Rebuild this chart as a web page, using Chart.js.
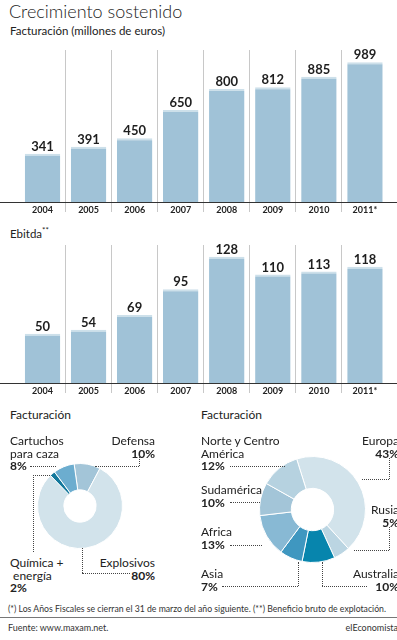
<!DOCTYPE html>
<html>
<head>
<meta charset="utf-8">
<script src="https://cdn.jsdelivr.net/npm/chart.js@4"></script>
<style>
  body { margin: 0; width: 397px; height: 640px; overflow: hidden; background: #fff; font-family: Lato, "Noto Sans", sans-serif; color: #222; position: relative; }
  .t { position: absolute; white-space: nowrap; }
  .lbl { position: absolute; font-size: 12px; line-height: 12.5px; white-space: nowrap; }
  .lbl b { font-weight: bold; }
  .r { text-align: right; }
  .h { position: absolute; border-top: 1px dotted #444; height: 0; }
  .v { position: absolute; border-left: 1px dotted #444; width: 0; }
  canvas { position: absolute; }
</style>
</head>
<body>
<div class="t" style="left:9px;top:0px;font-size:18px;font-weight:300;">Crecimiento sostenido</div>
<div class="t" style="left:10px;top:24px;font-size:11.5px;">Facturación (millones de euros)</div>
<canvas id="fact" width="397" height="180" style="left:0;top:40px;"></canvas>

<div class="t" style="left:10px;top:225px;font-size:11.5px;">Ebitda<sup style="font-size:8px;">**</sup></div>
<canvas id="ebitda" width="397" height="165" style="left:0;top:235px;"></canvas>

<div class="t" style="left:10px;top:407px;font-size:12px;">Facturación</div>
<div class="t" style="left:201px;top:407px;font-size:12px;">Facturación</div>

<canvas id="negocio" width="86" height="86" style="left:37px;top:463px;"></canvas>
<canvas id="region" width="107" height="107" style="left:259px;top:456px;"></canvas>

<!-- labels, left doughnut -->
<div class="lbl" style="left:10px;top:435px;">Cartuchos<br>para caza<br><b>8%</b></div>
<div class="lbl r" style="right:242px;top:435px;">Defensa<br><b>10%</b></div>
<div class="lbl" style="left:10px;top:557px;">Química +<br>&nbsp;energía<br><b>2%</b></div>
<div class="lbl r" style="right:242px;top:557px;">Explosivos<br><b>80%</b></div>

<!-- labels, right doughnut -->
<div class="lbl" style="left:201px;top:435px;">Norte y Centro<br>América<br><b>12%</b></div>
<div class="lbl" style="left:201px;top:484px;">Sudamérica<br><b>10%</b></div>
<div class="lbl" style="left:201px;top:526px;">Africa<br><b>13%</b></div>
<div class="lbl" style="left:201px;top:568px;">Asia<br><b>7%</b></div>
<div class="lbl r" style="right:-2px;top:435px;">Europa<br><b>43%</b></div>
<div class="lbl r" style="right:-2px;top:504px;">Rusia<br><b>5%</b></div>
<div class="lbl r" style="right:-2px;top:568px;">Australia<br><b>10%</b></div>

<!-- leader lines -->
<div class="h" style="left:30px;top:466px;width:26px;"></div>
<div class="h" style="left:95px;top:466px;width:44px;"></div>
<div class="v" style="left:139px;top:456px;height:10px;"></div>
<div class="h" style="left:33px;top:475px;width:17px;"></div>
<div class="v" style="left:33px;top:475px;height:77px;"></div>
<div class="v" style="left:82px;top:548px;height:25px;"></div>
<div class="h" style="left:82px;top:573px;width:48px;"></div>

<div class="h" style="left:230px;top:466px;width:55px;"></div>
<div class="h" style="left:230px;top:502px;width:30px;"></div>
<div class="h" style="left:230px;top:545px;width:32px;"></div>
<div class="h" style="left:222px;top:586px;width:76px;"></div>
<div class="v" style="left:298px;top:562px;height:24px;"></div>
<div class="h" style="left:362px;top:479px;width:27px;"></div>
<div class="v" style="left:389px;top:458px;height:21px;"></div>
<div class="h" style="left:354px;top:550px;width:35px;"></div>
<div class="v" style="left:389px;top:527px;height:23px;"></div>
<div class="v" style="left:322px;top:562px;height:24px;"></div>
<div class="h" style="left:322px;top:586px;width:45px;"></div>

<div class="t" style="left:8px;top:603px;font-size:8.7px;color:#333;">(*) Los Años Fiscales se cierran el 31 de marzo del año siguiente. (**) Beneficio bruto de explotación.</div>
<div style="position:absolute;left:0;top:617px;width:397px;border-top:1px solid #777;"></div>
<div class="t" style="left:8px;top:622px;font-size:9px;color:#333;">Fuente: www.maxam.net.</div>
<div class="t" style="right:-1px;top:622px;font-size:9px;color:#333;">elEconomista</div>

<script>
// Facturación y Ebitda por ejercicio
const years = ["2004", "2005", "2006", "2007", "2008", "2009", "2010", "2011*"];
const facturacion = [341, 391, 450, 650, 800, 812, 885, 989];
const ebitda = [50, 54, 69, 95, 128, 110, 113, 118];

// Facturación por negocio (%)
const negocios = ["Defensa", "Explosivos", "Química + energía", "Cartuchos para caza"];
const negocioPct = [10, 80, 2, 8];
const negocioColors = ["#a3c5d8", "#d2e3eb", "#13789c", "#6cadcf"];

// Facturación por región (%)
const regiones = ["Europa", "Rusia", "Australia", "Asia", "Africa", "Sudamérica", "Norte y Centro América"];
const regionPct = [43, 5, 10, 7, 13, 10, 12];
const regionColors = ["#d2e3eb", "#bbd5e2", "#0785ad", "#3f97c0", "#88b9d4", "#a3c5d8", "#b6d2e0"];

Chart.defaults.font.family = "Lato, 'Noto Sans', sans-serif";

// value labels over the bars and the full-width base line
const barDecor = {
    id: "barDecor",
    afterDatasetsDraw(chart) {
        const ctx = chart.ctx;
        const meta = chart.getDatasetMeta(0);
        const values = chart.data.datasets[0].data;
        ctx.save();
        ctx.font = "bold 13px Lato, sans-serif";
        ctx.fillStyle = "#1e1e1e";
        ctx.textAlign = "center";
        ctx.textBaseline = "alphabetic";
        meta.data.forEach((bar, i) => ctx.fillText(values[i], bar.x, bar.y - 3));
        const y = Math.round(chart.scales.x.top) + 0.5;
        ctx.strokeStyle = "#333";
        ctx.lineWidth = 1.2;
        ctx.beginPath();
        ctx.moveTo(0, y);
        ctx.lineTo(chart.width, y);
        ctx.stroke();
        ctx.restore();
    }
};

function makeBar(id, values, yMax, axisHeight) {
    return new Chart(document.getElementById(id), {
        type: "bar",
        data: {
            labels: years,
            datasets: [{
                data: values,
                backgroundColor: "#a0c2d7",
                borderColor: "#cde0ea",
                borderWidth: { top: 2, left: 0, right: 0, bottom: 0 },
                borderSkipped: "bottom",
                categoryPercentage: 1,
                barPercentage: 0.77
            }]
        },
        options: {
            responsive: false,
            animation: false,
            layout: { padding: { left: 19.5, right: 9, top: 10, bottom: 0 } },
            plugins: { legend: { display: false }, tooltip: { enabled: false } },
            scales: {
                x: {
                    offset: true,
                    grid: {
                        offset: true,
                        color: c => (c.index > 0 ? "#c8c8c8" : "transparent"),
                        tickLength: 10,
                        lineWidth: 1
                    },
                    border: { display: false },
                    ticks: {
                        color: "#222",
                        font: { size: 9, weight: "bold" },
                        padding: -7,
                        maxRotation: 0,
                        autoSkip: false
                    },
                    afterFit: s => { s.height = axisHeight; }
                },
                y: { display: false, min: 0, max: yMax }
            }
        },
        plugins: [barDecor]
    });
}

function makeDonut(id, labels, values, colors, rotation, cutout) {
    return new Chart(document.getElementById(id), {
        type: "doughnut",
        data: {
            labels: labels,
            datasets: [{
                data: values,
                backgroundColor: colors,
                borderColor: "#fff",
                borderWidth: 1
            }]
        },
        options: {
            responsive: false,
            animation: false,
            rotation: rotation,
            cutout: cutout,
            layout: { padding: 0 },
            plugins: { legend: { display: false }, tooltip: { enabled: false } }
        }
    });
}

makeBar("fact", facturacion, 1075, 18);
makeBar("ebitda", ebitda, 140, 17);
makeDonut("negocio", negocios, negocioPct, negocioColors, -8, "38%");
makeDonut("region", regiones, regionPct, regionColors, -17.4, "40%");
</script>
</body>
</html>
